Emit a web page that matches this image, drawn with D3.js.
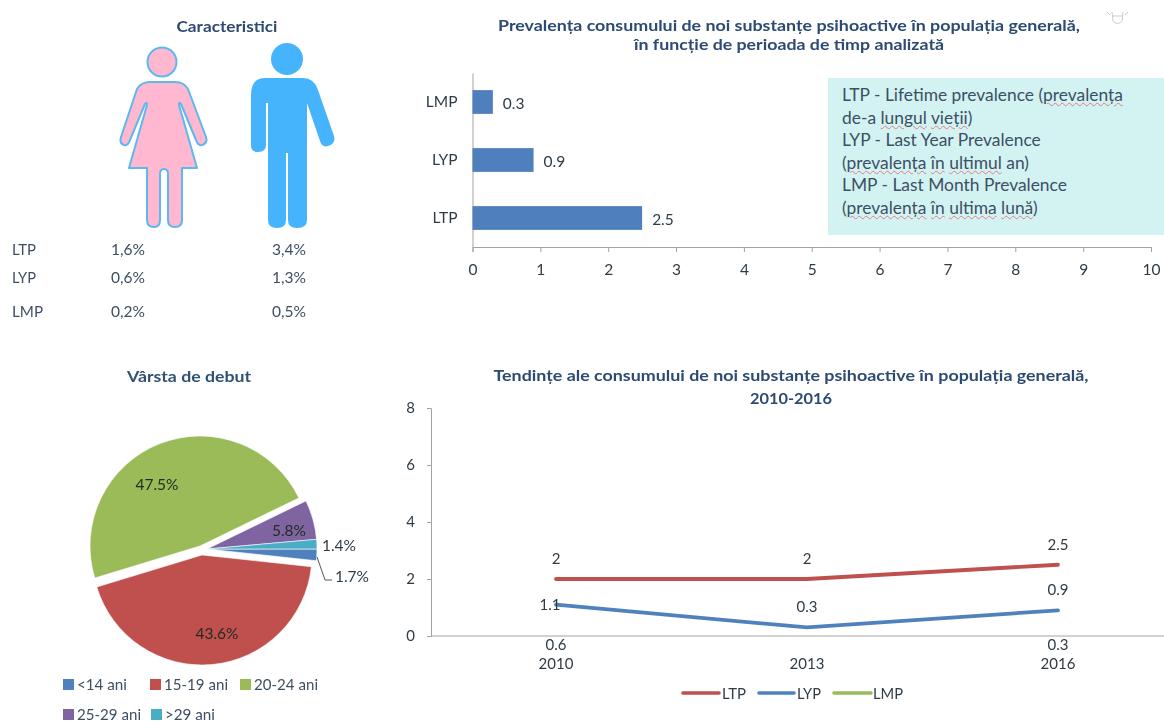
<!DOCTYPE html>
<html><head><meta charset="utf-8">
<script src="https://cdnjs.cloudflare.com/ajax/libs/d3/7.8.5/d3.min.js"></script>
<style>
html,body{margin:0;padding:0;background:#fff;overflow:hidden}
#wrap{position:relative;width:1164px;height:722px;font-family:Lato,sans-serif;filter:blur(0.4px)}
svg{position:absolute;left:0;top:0}
#note{position:absolute;left:828px;top:78px;width:336px;height:157px;background:#d2f3f2;box-sizing:border-box;padding:6px 0 0 14px;font-size:17.4px;line-height:22.6px;color:#3d4f63;white-space:nowrap}
#note u{text-decoration:underline wavy #e8798a 0.8px;text-underline-offset:1px}
</style></head><body><div id="wrap"><svg id="c" width="1164" height="722"></svg>
<div id="note">LTP - Lifetime prevalence (<u>prevalența</u><br>de-a <u>lungul</u> <u>vieții</u>)<br>LYP - Last Year Prevalence<br>(<u>prevalența</u> <u>în</u> <u>ultimul</u> an)<br>LMP - Last Month Prevalence<br>(<u>prevalența</u> <u>în</u> <u>ultima</u> <u>lună</u>)</div></div>
<script>
// ---- data ----
const charRows = ["LTP","LYP","LMP"];
const charWomen = ["1,6%","0,6%","0,2%"];
const charMen = ["3,4%","1,3%","0,5%"];
const barCategories = ["LMP","LYP","LTP"];
const barValues = [0.3,0.9,2.5];
const barTicks = [0,1,2,3,4,5,6,7,8,9,10];
const pieLabels = ["<14 ani","15-19 ani","20-24 ani","25-29 ani",">29 ani"];
const pieValues = [1.7,43.6,47.5,5.8,1.4];
const years = ["2010","2013","2016"];
const ltp = [2,2,2.5];
const lyp = [1.1,0.3,0.9];
const lmp = [0.6,null,0.3];
const lineTicks = [0,2,4,6,8];
const lineSeriesNames = ["LTP","LYP","LMP"];

// ---- style ----
const TITLE="#2c4a72", TXT="#3d4f63", AX="#a3a3a3", DARK="#2f3b45";
const pieColors=["#4f81bd","#c0504d","#9bbb59","#8064a2","#4bacc6"];
const lineColors=["#c0504d","#4f81bd","#9bbb59"];
const svg=d3.select("#c");
function label(x,y,s,o={}){
  const t=svg.append("text").attr("x",x).attr("y",y).text(s)
   .attr("font-family","Lato, sans-serif").attr("font-size",o.size||15)
   .attr("font-weight",o.bold?700:400).attr("fill",o.fill||TXT)
   .attr("text-anchor",o.anchor||"start").attr("dominant-baseline","central");
  if(o.w) t.attr("textLength",o.w).attr("lengthAdjust","spacingAndGlyphs");
  return t;
}
// ---- top-left pictograms ----
label(227,26,"Caracteristici",{bold:true,fill:TITLE,anchor:"middle",w:101,size:15.5});
const F="#ffb8d0",FS="#5cb8ee",M="#45b4fd";
svg.append("circle").attr("cx",162).attr("cy",62).attr("r",14.5).attr("fill",F).attr("stroke",FS).attr("stroke-width",2);
svg.append("path").attr("fill",F).attr("stroke",FS).attr("stroke-width",2).attr("stroke-linejoin","round")
 .attr("d","M150 82 L175 82 Q184 82 188 89 L206 137 Q208 143 202 145 Q198 146 196 140 L181 104 Q179 101 179 105 L197 168 L182 168 L182 220 Q182 227 175 227 Q168 227 168 220 L168 174 Q168 169 164 169 Q160 169 160 174 L160 220 Q160 227 154 227 Q147 227 147 220 L147 168 L129 168 L147 105 Q147 101 145 104 L130 140 Q128 146 124 145 Q119 143 121 137 L137 89 Q141 82 150 82 Z");
svg.append("circle").attr("cx",287).attr("cy",59).attr("r",16).attr("fill",M);
svg.append("path").attr("fill",M)
 .attr("d","M265 78 L303 78 Q314 78 318 90 L334 136 Q336 144 328 146 Q322 148 320 141 L307 103 L307 220 Q307 228 297 228 Q288 228 288 220 L288 153 L286 153 L286 220 Q286 228 277 228 Q268 228 268 220 L268 103 L266 103 L266 145 Q266 152 258 152 Q251 152 251 145 L251 95 Q251 78 265 78 Z");
const rowY=[249,277,311];
charRows.forEach((r,i)=>{
  label(12,rowY[i],r,{w:i==2?31:24});
  label(111,rowY[i],charWomen[i],{w:34});
  label(272,rowY[i],charMen[i],{w:34});
});
// small stray glyph top right
svg.append("path").attr("d","M1112 12 L1113 21 Q1117 26 1122 21 L1123 12 M1112 16 H1123 M1107 12 L1110 15 M1128 12 L1125 15")
 .attr("fill","none").attr("stroke","#c9ccc9").attr("stroke-width",1);

// ---- bar chart ----
label(789,25,"Prevalența consumului de noi substanțe psihoactive în populația generală,",{bold:true,fill:TITLE,anchor:"middle",w:582,size:15.5});
label(789,44,"în funcție de perioada de timp analizată",{bold:true,fill:TITLE,anchor:"middle",w:310,size:15.5});
const bx=d3.scaleLinear().domain([0,10]).range([472.5,1151]);
const by=d3.scaleBand().domain(barCategories).range([73,247]).paddingInner(0.59).paddingOuter(0.295);
const gx=svg.append("g").attr("transform","translate(0,247)").call(d3.axisBottom(bx).tickValues(barTicks).tickSize(5).tickPadding(12));
const gy=svg.append("g").attr("transform","translate(472.5,0)").call(d3.axisLeft(by).tickSize(0).tickPadding(15));
[gx,gy].forEach(g=>{g.selectAll("path,line").attr("stroke",AX);g.selectAll("text").attr("font-family","Lato, sans-serif").attr("font-size",15.5).attr("fill",DARK);});
svg.selectAll(".bar").data(barValues).join("rect").attr("class","bar")
 .attr("x",bx(0)).attr("y",(d,i)=>by(barCategories[i])).attr("width",d=>bx(d)-bx(0)).attr("height",by.bandwidth()).attr("fill","#4f7fbd");
barValues.forEach((v,i)=>label(bx(v)+10,by(barCategories[i])+by.bandwidth()/2+1,String(v),{fill:DARK,size:15.5}));

// ---- pie ----
label(189,376,"Vârsta de debut",{bold:true,fill:"#2f5273",anchor:"middle",w:124,size:15.5});
const R=110, cx0=207, cy0=549;
const pieGen=d3.pie().sort(null).startAngle(Math.PI/2).endAngle(Math.PI*2.5);
const arc=d3.arc().innerRadius(0).outerRadius(R);
const sliceShift=[[0,0],[-5,6],[-7,-3],[0,0],[0,0]];
svg.append("g").selectAll("path").data(pieGen(pieValues)).join("path")
 .attr("d",arc).attr("fill",(d,i)=>pieColors[i]).attr("stroke","#fff").attr("stroke-width",0.6)
 .attr("transform",(d,i)=>`translate(${cx0+sliceShift[i][0]},${cy0+sliceShift[i][1]})`);
const pieLabelAt=[[352,576],[217,633],[157,484],[289,530],[339,545]];
pieValues.forEach((v,i)=>label(pieLabelAt[i][0],pieLabelAt[i][1],v.toFixed(1)+"%",{anchor:"middle",fill:i==1||i==2||i==3?"#222c22":DARK,size:14.5,w:i==1||i==2?43:34}));
svg.append("polyline").attr("points","317,557 325,580 332,580").attr("fill","none").attr("stroke","#555").attr("stroke-width",1);
const legSq=[[63,679],[150,679],[240,679],[63,709],[151,709]];
pieLabels.forEach((s,i)=>{
  svg.append("rect").attr("x",legSq[i][0]).attr("y",legSq[i][1]).attr("width",11).attr("height",11).attr("fill",pieColors[i]);
  label(legSq[i][0]+14,legSq[i][1]+5,s,{w:i==0||i==4?50:64});
});

// ---- line chart ----
label(791,375,"Tendințe ale consumului de noi substanțe psihoactive în populația generală,",{bold:true,fill:TITLE,anchor:"middle",w:595,size:15.5});
label(791,398,"2010-2016",{bold:true,fill:TITLE,anchor:"middle",w:82,size:15.5});
const lx=d3.scalePoint().domain(years).range([556,1058]);
const ly=d3.scaleLinear().domain([0,8]).range([636,408]);
const gy2=svg.append("g").attr("transform","translate(431,0)").call(d3.axisLeft(ly).tickValues(lineTicks).tickSize(4).tickPadding(12));
const gx2=svg.append("g").attr("transform","translate(0,636)");
gx2.append("line").attr("x1",431).attr("x2",1164);
gx2.selectAll("text").data(years).join("text").attr("x",d=>lx(d)).attr("y",27).attr("text-anchor","middle").attr("dominant-baseline","central").text(d=>d);
[gy2,gx2].forEach(g=>{g.selectAll("path,line").attr("stroke",AX);g.selectAll("text").attr("font-family","Lato, sans-serif").attr("font-size",15).attr("fill",DARK);});
const line=d3.line().x((d,i)=>lx(years[i])).y(d=>ly(d));
[ltp,lyp].forEach((s,i)=>svg.append("path").attr("d",line(s)).attr("fill","none").attr("stroke",lineColors[i]).attr("stroke-width",3.8).attr("stroke-linecap","round"));
ltp.forEach((v,i)=>label(lx(years[i]),ly(v)-21,String(v),{anchor:"middle",fill:DARK}));
lyp.forEach((v,i)=>{ const first=i===0;
  label(lx(years[i])+(first?-6:0),ly(v)-(first?1:21),String(v),{anchor:"middle",fill:DARK});});
lmp.forEach((v,i)=>{ if(v!==null) label(lx(years[i]),643.5,String(v),{anchor:"middle",fill:DARK}); });
const legX=[[683,719,722],[759,794,797],[834,871,873]];
lineSeriesNames.forEach((s,i)=>{
  svg.append("line").attr("x1",legX[i][0]).attr("x2",legX[i][1]).attr("y1",693).attr("y2",693).attr("stroke",lineColors[i]).attr("stroke-width",3.6).attr("stroke-linecap","round");
  label(legX[i][2],693,s,{fill:DARK,w:i==2?30:24});
});
</script></body></html>
